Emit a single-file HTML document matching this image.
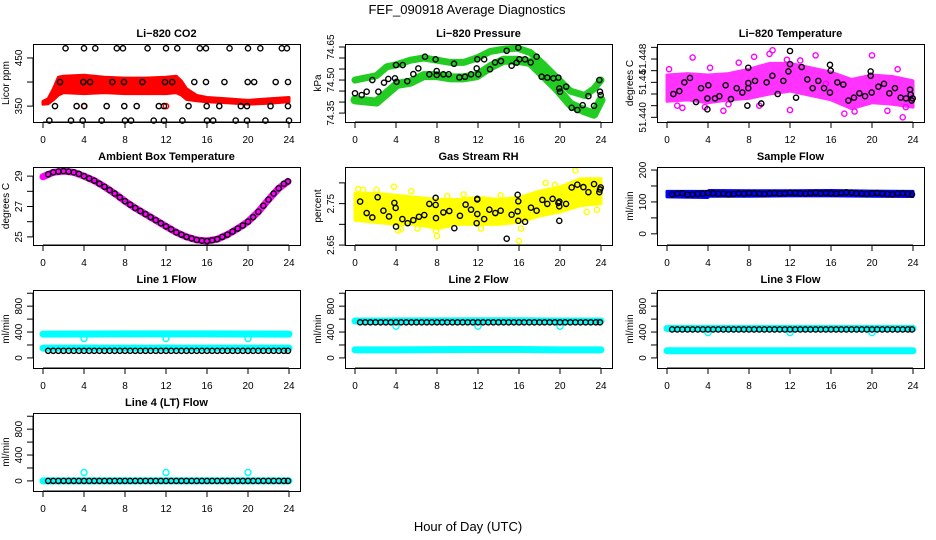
<!DOCTYPE html>
<html><head><meta charset="utf-8"><style>
html,body{margin:0;padding:0;background:#fff;}
svg{display:block;font-family:"Liberation Sans",Arial,sans-serif;}
</style></head><body>
<svg id="chart" width="936" height="540" viewBox="0 0 936 540" xmlns="http://www.w3.org/2000/svg">
<text x="467" y="14" text-anchor="middle" font-size="13">FEF_090918  Average Diagnostics</text>
<text x="468" y="531" text-anchor="middle" font-size="13">Hour of Day (UTC)</text>
</svg>
<script>
// ---------- data ----------
const HALF_HOURS = [0.5,1,1.5,2,2.5,3,3.5,4,4.5,5,5.5,6,6.5,7,7.5,8,8.5,9,9.5,10,10.5,11,11.5,12,12.5,13,13.5,14,14.5,15,15.5,16,16.5,17,17.5,18,18.5,19,19.5,20,20.5,21,21.5,22,22.5,23,23.5,23.9];
// CO2
const co2BandHours = [0,0.5,1,1.5,2,4,6,8,10,12,13,13.5,14,15,16,18,20,22,24];
const co2BandUpper = [360,365,385,410,412,414,410,408,408,410,412,402,386,372,368,365,362,365,368];
const co2BandLower = [354,355,363,373,378,376,378,376,376,376,378,373,364,361,359,357,354,356,359];
const co2PtHours = [2.2,4.0,5.1,7.2,7.8,10.2,12.0,13.1,15.3,15.9,18.2,20.0,21.2,23.3,23.8,
 1.66,3.93,4.59,6.76,7.9,9.69,11.9,12.6,14.76,15.9,17.7,19.97,20.6,22.7,23.9,
 1.17,3.28,4.03,6.21,7.93,9.14,11.3,11.8,14.2,15.97,17.2,19.3,19.9,22.2,23.9,
 0.62,2.73,3.87,5.72,8.0,8.59,10.8,11.8,13.6,16.0,16.6,18.8,19.9,21.7,24.0];
const co2PtVals = [470,470,470,470,470,470,470,470,470,470,470,470,470,470,470,
 400,400,400,400,400,400,400,400,400,400,400,400,400,400,400,
 350,350,350,350,350,350,350,350,350,350,350,350,350,350,350,
 320,320,320,320,320,320,320,320,320,320,320,320,320,320,320];
// Pressure
const presBandHours = [0,2.1,3.1,4.1,5.4,6.7,8,9.3,10.6,11.9,13.2,14.5,15.8,17.1,18.4,19.7,21,22.4,23.3,24];
const presUpper = [74.50,74.52,74.56,74.57,74.59,74.60,74.59,74.58,74.58,74.60,74.63,74.64,74.645,74.625,74.57,74.51,74.45,74.43,74.46,74.50];
const presLower = [74.41,74.40,74.44,74.48,74.49,74.52,74.52,74.51,74.51,74.52,74.56,74.59,74.59,74.58,74.52,74.46,74.39,74.36,74.345,74.41];
const presPtHours = [0,0.65,1.14,1.69,2.28,2.83,3.25,3.9,4.0,4.06,4.65,5.1,5.69,6.18,6.83,7.25,7.87,7.97,7.97,8.62,9.14,9.66,10.18,10.73,11.32,11.87,11.93,12.03,12.6,13.17,13.66,14.24,14.8,15.28,15.77,15.93,16.03,16.59,17.14,17.72,18.21,18.76,19.35,19.84,19.93,20.0,20.6,21.14,21.69,22.21,22.77,23.32,23.84,23.9,23.97];
const presPtVals = [74.44,74.432,74.447,74.50,74.447,74.488,74.505,74.508,74.568,74.492,74.568,74.495,74.527,74.553,74.606,74.526,74.594,74.541,74.523,74.526,74.526,74.574,74.512,74.515,74.526,74.553,74.594,74.526,74.594,74.549,74.58,74.586,74.633,74.565,74.579,74.647,74.594,74.594,74.58,74.606,74.515,74.511,74.508,74.511,74.462,74.447,74.47,74.374,74.364,74.386,74.427,74.383,74.50,74.447,74.432];
// Temperature
const tempBandHours = [0,2,4,6,8,10,12,14,16,18,20,22,24];
const tempUpper = [51.4458,51.4460,51.4458,51.4460,51.4466,51.4474,51.4474,51.4468,51.4462,51.4452,51.4458,51.4456,51.4450];
const tempLower = [51.4422,51.4424,51.4420,51.4424,51.4426,51.4432,51.4436,51.4430,51.4424,51.4412,51.4420,51.4418,51.4414];
const tempOutHours = [0.2,1.5,2.5,3.7,4.2,5.5,7.0,8.5,9.0,10.0,10.3,11.7,13.0,14.5,15.5,17.3,18.3,20.0,21.5,22.5,23.0,23.3,1.0,6.0,12.0];
const tempOutVals = [51.4466,51.4413,51.4482,51.4414,51.4468,51.4409,51.4475,51.4483,51.4416,51.4487,51.4492,51.4479,51.4478,51.4485,51.4446,51.4405,51.4408,51.4485,51.4409,51.4466,51.4400,51.4414,51.4416,51.4418,51.4410];
const tempPtHours = [0.62,1.2,1.69,2.24,2.83,3.32,3.94,4.03,3.94,4.68,5.11,5.72,6.24,6.8,7.35,7.84,7.93,7.93,7.93,8.59,9.2,9.72,10.28,10.8,11.35,11.84,12.0,12.0,12.59,13.14,13.69,14.21,14.76,15.32,15.9,15.9,15.97,16.62,17.2,17.69,18.24,18.77,19.32,19.87,19.87,19.97,20.62,21.17,21.69,22.24,22.8,23.32,23.71,23.77,23.87,23.97];
const tempPtVals = [51.4432,51.4436,51.4448,51.4454,51.4421,51.4440,51.4426,51.4444,51.4411,51.4426,51.4429,51.4444,51.4425,51.4440,51.4434,51.4416,51.4440,51.4447,51.4468,51.4450,51.4419,51.4448,51.4457,51.4432,51.4450,51.4463,51.4473,51.4491,51.4427,51.4469,51.4452,51.4440,51.4450,51.4440,51.4434,51.4472,51.4464,51.4448,51.4445,51.4423,51.4427,51.4433,51.4429,51.4463,51.4457,51.4434,51.4442,51.4446,51.4433,51.4440,51.4427,51.4426,51.4438,51.4431,51.4423,51.4426];
// Ambient box temp
const ambHours = [0,1,2,3,4,5,6,7,8,9,10,11,12,13,14,15,16,17,18,19,20,21,22,23,23.9];
const ambBand = [28.96,29.25,29.33,29.25,29.0,28.7,28.3,27.85,27.35,26.9,26.5,26.1,25.69,25.3,25.0,24.8,24.73,24.85,25.15,25.55,26.0,26.65,27.45,28.2,28.65];
const ambPtVals = [29.12,29.25,29.3,29.33,29.3,29.25,29.15,29.0,28.85,28.7,28.5,28.3,28.08,27.85,27.6,27.35,27.12,26.9,26.7,26.5,26.3,26.1,25.9,25.69,25.5,25.3,25.15,25.0,24.9,24.8,24.75,24.73,24.78,24.85,25.0,25.15,25.35,25.55,25.75,26.0,26.3,26.65,27.05,27.45,27.85,28.2,28.5,28.65];
// Gas stream RH
const rhBandHours = [0,2,4,6,8,10,12,14,16,18,20,22,24];
const rhUpper = [2.775,2.775,2.77,2.765,2.76,2.76,2.765,2.76,2.765,2.78,2.79,2.81,2.81];
const rhLower = [2.71,2.705,2.70,2.70,2.69,2.70,2.70,2.70,2.705,2.72,2.73,2.745,2.75];
const rhOutHours = [0.3,0.8,2.1,3.8,4.2,5.5,6.1,8.0,9.0,10.6,12.3,14.2,16.0,16.2,18.6,19.5,21.5,22.6,23.6,7.9,4.5];
const rhOutVals = [2.785,2.783,2.783,2.791,2.685,2.780,2.690,2.672,2.768,2.772,2.690,2.770,2.660,2.690,2.800,2.795,2.830,2.730,2.735,2.685,2.688];
const rhPtHours = [0.5,1.14,1.69,2.21,2.77,3.32,3.84,3.97,4.0,4.62,5.14,5.69,6.24,6.76,7.25,7.87,7.87,7.9,8.62,9.2,9.69,10.24,10.79,11.32,11.87,11.93,11.93,11.93,12.6,13.11,13.69,14.21,14.8,15.28,15.87,15.93,15.93,15.87,16.59,17.17,17.72,18.28,18.76,19.28,19.84,19.93,19.93,19.93,20.59,21.14,21.69,22.28,22.77,23.32,23.84,23.9,23.97];
const rhPtVals = [2.7549,2.7273,2.7166,2.7654,2.7329,2.719,2.7517,2.7395,2.6946,2.7127,2.7029,2.7102,2.7183,2.7224,2.7493,2.7468,2.7639,2.7151,2.7288,2.7322,2.6907,2.7207,2.7476,2.7354,2.7029,2.7615,2.7600,2.7249,2.7127,2.7354,2.7273,2.7329,2.6654,2.7232,2.7312,2.7085,2.7556,2.7712,2.7061,2.7402,2.7329,2.759,2.7493,2.7615,2.7517,2.7434,2.7549,2.7085,2.7493,2.789,2.7956,2.7898,2.7776,2.7971,2.7776,2.7841,2.789];
// Sample flow
const sfBandHours = [0,4,4.1,8,12,16,20,24];
const sfUpper = [133,133,136,135,135,136,134,133];
const sfLower = [116,114,118,118,119,119,118,117];
const sfPtVals = [124,126,127,123,124,125,126,128,127,125,126,124,125,127,126,128,127,126,125,127,128,126,127,129,128,127,126,128,129,127,128,127,126,128,130,129,127,126,125,127,128,126,125,124,126,127,125,124];
// Line flows
const flowBandHours = [0,4,8,12,16,20,24];
const l1Upper = [368,370,372,372,372,370,368];
const l1Lower = [152,152,152,152,152,152,152];
const l1PtVals = [110,110,110,110,110,110,110,110,110,110,110,110,110,110,110,110,110,110,110,110,110,110,110,110,110,110,110,110,110,110,110,110,110,110,110,110,110,110,110,110,110,110,110,110,110,110,110,110];
const l2Upper = [570,572,572,575,575,570,570];
const l2Lower = [125,125,128,130,130,125,125];
const l2PtVals = [550,550,550,550,550,550,550,550,550,550,550,550,550,550,550,550,550,550,550,550,550,550,550,550,550,550,550,550,550,550,550,550,550,550,550,550,550,550,550,550,550,550,550,550,550,550,550,550];
const l3Upper = [455,455,455,455,455,455,455];
const l3Lower = [110,110,110,110,110,110,110];
const l3PtVals = [440,440,440,440,440,440,440,440,440,440,440,440,440,440,440,440,440,440,440,440,440,440,440,440,440,440,440,440,440,440,440,440,440,440,440,440,440,440,440,440,440,440,440,440,440,440,440,440];
const l4Upper = [0,0,0,0,0,0,0];
const l4PtVals = [0,0,0,0,0,0,0,0,0,0,0,0,0,0,0,0,0,0,0,0,0,0,0,0,0,0,0,0,0,0,0,0,0,0,0,0,0,0,0,0,0,0,0,0,0,0,0,0];
const outlierHours = [4,12,20];
const l1Out = [300,300,300];
const l2Out = [490,490,490];
const l3Out = [390,390,390];
const l4Out = [130,130,130];
const X_TICKS = [0,4,8,12,16,20,24];

// ---------- drawing ----------
const NS = "http://www.w3.org/2000/svg";
const svg = document.getElementById('chart');
function mk(tag, attrs, parent){
  const e = document.createElementNS(NS, tag);
  for (const k in attrs) e.setAttribute(k, attrs[k]);
  (parent||svg).appendChild(e);
  return e;
}
const COLX = [33,345,657], ROWY = [44,167,290,413], W = 267, H = 78;

function panel(col,row,ymin,ymax,title,ylab,ticks,labels,name){
  const x0 = COLX[col], y0 = ROWY[row];
  const g = mk('g',{});
  
  
  const X = h => x0 + 10 + h*10.25;
  const Y = v => y0 + H - (v-ymin)/(ymax-ymin)*H;
  const t = mk('text',{x:x0+W/2,y:y0-7,'text-anchor':'middle','font-size':11,'font-weight':'bold'},g);
  t.textContent = title;
  
  
  const yl = mk('text',{x:0,y:0,'text-anchor':'middle','font-size':10,transform:`translate(${x0-24},${y0+H/2}) rotate(-90)`},g);
  yl.textContent = ylab;
  
  
  const ax = mk('g',{stroke:'#000','stroke-width':1},g);
  
  
  mk('line',{x1:X(0),x2:X(24),y1:y0+H,y2:y0+H},ax);
  X_TICKS.forEach(h=>{
    mk('line',{x1:X(h),x2:X(h),y1:y0+H,y2:y0+H+6},ax);
    const tl = mk('text',{x:X(h),y:y0+H+21,'text-anchor':'middle','font-size':10,stroke:'none'},g);
    tl.textContent = h;
    
    
  });
  const ay = mk('g',{stroke:'#000','stroke-width':1},g);
  
  
  mk('line',{x1:x0,x2:x0,y1:Y(ticks[0]),y2:Y(ticks[ticks.length-1])},ay);
  ticks.forEach(v=>mk('line',{x1:x0-6,x2:x0,y1:Y(v),y2:Y(v)},ay));
  labels.forEach(([v,s])=>{
    const tl = mk('text',{x:0,y:0,'text-anchor':'middle','font-size':10,transform:`translate(${x0-11},${Y(v)}) rotate(-90)`},g);
    tl.textContent = s;
    
    
  });
  const plot = mk('g',{},g);
  const box = mk('rect',{x:x0+0.5,y:y0+0.5,width:W,height:H,fill:'none',stroke:'#000','stroke-width':1},g);
  
  
  return {X,Y,plot};
}
function band(p,hours,up,lo,color,name,op){
  let pts = hours.map((h,i)=>p.X(h)+','+p.Y(up[i]));
  pts = pts.concat(hours.map((h,i)=>p.X(h)+','+p.Y(lo[i])).reverse());
  const e = mk('polygon',{points:pts.join(' '),fill:color,stroke:color,'stroke-width':3,'stroke-linejoin':'round',opacity:op||1},p.plot);
  
  
}
function thickLine(p,hours,vals,color,w,name){
  const e = mk('polyline',{points:hours.map((h,i)=>p.X(h)+','+p.Y(vals[i])).join(' '),fill:'none',stroke:color,'stroke-width':w,'stroke-linejoin':'round','stroke-linecap':'round'},p.plot);
  
  
}
function points(p,hours,vals,color,name,r){
  const g = mk('g',{fill:'none',stroke:color,'stroke-width':1.4},p.plot);
  
  
  hours.forEach((h,i)=>{
    const c = mk('circle',{cx:p.X(h),cy:p.Y(vals[i]),r:r||2.6},g);
    
    
  });
}

// 1 CO2
let p = panel(0,0,317,479,'Li\u2212820 CO2','Licor ppm',[350,400,450],[[350,'350'],[450,'450']],'co2');
band(p,co2BandHours,co2BandUpper,co2BandLower,'#ff0000','co2-raw-band');
points(p,[4,12],[350,350],'#ff0000','co2-raw-outliers');
points(p,co2PtHours,co2PtVals,'#000','co2-averages');
// 2 Pressure
p = panel(1,0,74.3095,74.6636,'Li\u2212820 Pressure','kPa',[74.35,74.40,74.45,74.50,74.55,74.60,74.65],[[74.35,'74.35'],[74.50,'74.50'],[74.65,'74.65']],'pressure');
thickLine(p,presBandHours,presUpper,'#22cc22',7,'pressure-raw-upper');
thickLine(p,presBandHours,presLower,'#22cc22',9,'pressure-raw-lower');
points(p,presPtHours,presPtVals,'#000','pressure-averages');
// 3 Temperature
p = panel(2,0,51.43936,51.45006,'Li\u2212820 Temperature','degrees C',[51.4400,51.4416,51.4432,51.4448,51.4464,51.4480,51.4496],[[51.440,'51.440'],[51.4448,'51.44'],[51.448,'51.448']],'temperature');
band(p,tempBandHours,tempUpper,tempLower,'#ff00ff','temperature-raw-band',0.8);
points(p,tempOutHours,tempOutVals,'#ff00ff','temperature-raw-outliers');
points(p,tempPtHours,tempPtVals,'#000','temperature-averages');
// 4 Ambient
p = panel(0,1,24.467,29.6,'Ambient Box Temperature','degrees C',[25,26,27,28,29],[[25,'25'],[27,'27'],[29,'29']],'ambient');
thickLine(p,ambHours,ambBand,'#ff00ff',7,'ambient-raw');
points(p,HALF_HOURS,ambPtVals,'#000','ambient-averages');
// 5 RH
p = panel(1,1,2.6502,2.8383,'Gas Stream RH','percent',[2.65,2.70,2.75,2.80],[[2.65,'2.65'],[2.75,'2.75']],'rh');
band(p,rhBandHours,rhUpper,rhLower,'#ffff00','rh-raw-band');
points(p,rhOutHours,rhOutVals,'#ffff00','rh-raw-outliers');
points(p,rhPtHours,rhPtVals,'#000','rh-averages');
// 6 Sample flow
p = panel(2,1,-35,209.5,'Sample Flow','ml/min',[0,50,100,150,200],[[0,'0'],[100,'100'],[200,'200']],'sample-flow');
band(p,sfBandHours,sfUpper,sfLower,'#0000ff','sample-flow-raw-band');
points(p,HALF_HOURS,sfPtVals,'#000','sample-flow-averages');
// flows
const FT = [0,200,400,600,800,1000], FL = [[0,'0'],[400,'400'],[800,'800']];
function flowPanel(col,row,title,name,up,lo,vals,out){
  const q = panel(col,row,-156,1050,title,'ml/min',FT,FL,name);
  thickLine(q,flowBandHours,up,'#00ffff',7,name+'-raw-upper');
  if (lo) thickLine(q,flowBandHours,lo,'#00ffff',7,name+'-raw-lower');
  points(q,outlierHours,out,'#00ffff',name+'-raw-outliers',3);
  points(q,HALF_HOURS,vals,'#000',name+'-averages');
}
flowPanel(0,2,'Line 1 Flow','line1-flow',l1Upper,l1Lower,l1PtVals,l1Out);
flowPanel(1,2,'Line 2 Flow','line2-flow',l2Upper,l2Lower,l2PtVals,l2Out);
flowPanel(2,2,'Line 3 Flow','line3-flow',l3Upper,l3Lower,l3PtVals,l3Out);
flowPanel(0,3,'Line 4 (LT) Flow','line4-flow',l4Upper,null,l4PtVals,l4Out);
</script>
</body></html>
